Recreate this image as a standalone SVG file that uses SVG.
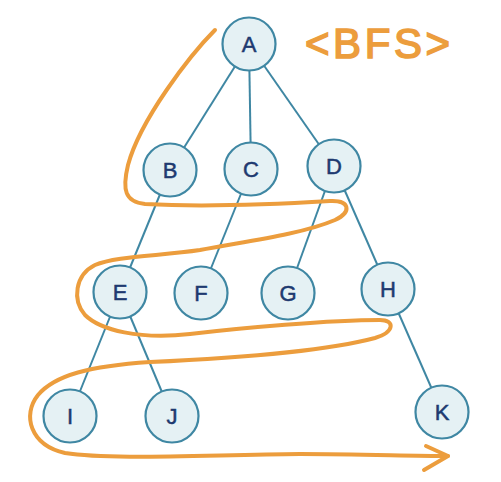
<svg xmlns="http://www.w3.org/2000/svg" width="501" height="482" viewBox="0 0 501 482">
<style>
.edge{stroke:#3f87a3;stroke-width:2;fill:none}
.node circle{fill:#e5f1f4;stroke:#3f87a3;stroke-width:2.2}
.node text{font-family:"Liberation Sans",Arial,sans-serif;font-size:22px;fill:#1e3a70;stroke:#1e3a70;stroke-width:0.5;text-anchor:middle;dominant-baseline:central}
.trail{stroke:#ec9d3d;stroke-width:4;fill:none;stroke-linecap:round;stroke-linejoin:round}
</style>
<rect width="501" height="482" fill="#ffffff"/>
<g id="connectors">
<line class="edge" x1="249" y1="44" x2="170" y2="170"/>
<line class="edge" x1="249" y1="44" x2="251" y2="169"/>
<line class="edge" x1="249" y1="44" x2="334" y2="166"/>
<line class="edge" x1="170" y1="170" x2="120" y2="292"/>
<line class="edge" x1="251" y1="169" x2="201" y2="293"/>
<line class="edge" x1="334" y1="166" x2="288" y2="293"/>
<line class="edge" x1="334" y1="166" x2="388" y2="289"/>
<line class="edge" x1="120" y1="292" x2="70" y2="416"/>
<line class="edge" x1="120" y1="292" x2="172" y2="416"/>
<line class="edge" x1="388" y1="289" x2="442" y2="412"/>
</g>
<g id="trail">
<path class="trail" d="M215,30 C190,55 140,120 128,165 C122,190 125,202 145,204 C200,207 280,204 330,201 C350,200 352,212 335,220 C300,235 240,242 200,250 C160,256 115,256 95,265 C75,275 72,300 85,315 C100,330 140,340 190,334 C240,328 330,320 380,320 C395,320 395,332 375,338 C330,350 240,358 150,362 C90,366 55,375 38,395 C22,415 30,445 65,453 C110,460 200,455 300,454 C360,454 410,456 448,456"/>
<path class="trail" d="M426,446 L448,456 L424,470"/>
</g>
<g id="title">
<text x="305" y="58" textLength="145" lengthAdjust="spacing" font-family="Liberation Sans, Arial, sans-serif" font-size="42" fill="#ec9d3d" stroke="#ec9d3d" stroke-width="1.6">&lt;BFS&gt;</text>
</g>
<g id="A" class="node"><circle cx="249" cy="44" r="26.5"/><text x="249" y="44">A</text></g>
<g id="B" class="node"><circle cx="170" cy="170" r="26.5"/><text x="170" y="170">B</text></g>
<g id="C" class="node"><circle cx="251" cy="169" r="26.5"/><text x="251" y="169">C</text></g>
<g id="D" class="node"><circle cx="334" cy="166" r="26.5"/><text x="334" y="166">D</text></g>
<g id="E" class="node"><circle cx="120" cy="292" r="26.5"/><text x="120" y="292">E</text></g>
<g id="F" class="node"><circle cx="201" cy="293" r="26.5"/><text x="201" y="293">F</text></g>
<g id="G" class="node"><circle cx="288" cy="293" r="26.5"/><text x="288" y="293">G</text></g>
<g id="H" class="node"><circle cx="388" cy="289" r="26.5"/><text x="388" y="289">H</text></g>
<g id="I" class="node"><circle cx="70" cy="416" r="26.5"/><text x="70" y="416">I</text></g>
<g id="J" class="node"><circle cx="172" cy="416" r="26.5"/><text x="172" y="416">J</text></g>
<g id="K" class="node"><circle cx="442" cy="412" r="26.5"/><text x="442" y="412">K</text></g>
</svg>
